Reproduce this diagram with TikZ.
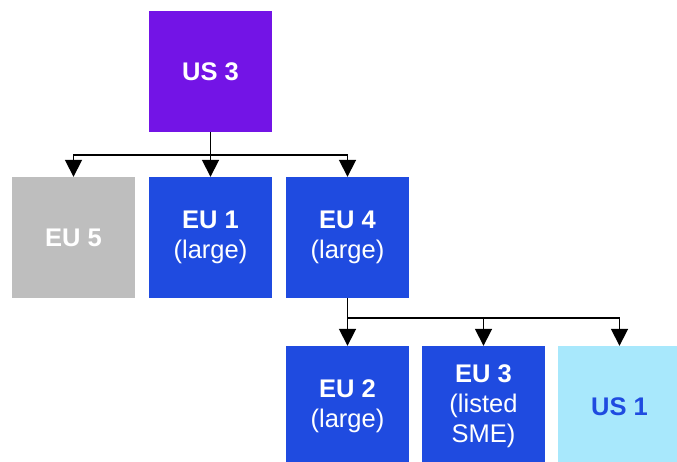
\documentclass[tikz,border=0pt]{standalone}
\usepackage{fontspec}
\setmainfont{Liberation Sans}
\usetikzlibrary{arrows.meta}
\definecolor{usviolet}{HTML}{7314E6}
\definecolor{eublue}{HTML}{1F4BE0}
\definecolor{eugrey}{HTML}{BEBEBE}
\definecolor{uscyan}{HTML}{A8E8FC}
\begin{document}
\begin{tikzpicture}[x=1pt,y=-1pt,
  box/.style={minimum width=123pt,minimum height=121pt,inner sep=0pt,align=center,text=white,font=\fontsize{25.5}{30}\selectfont},
  link/.style={line width=1.8pt,-{Triangle[width=17pt,length=17pt]}}]
\useasboundingbox (0,0) rectangle (677,462);
\node[box,fill=usviolet] (us3) at (210.5,71.5) {\textbf{US 3}};
\node[box,fill=eugrey] (eu5) at (73.5,237.5) {\textbf{EU 5}};
\node[box,fill=eublue] (eu1) at (210.5,237.5) {\textbf{EU 1}\\(large)};
\node[box,fill=eublue] (eu4) at (347.5,237.5) {\textbf{EU 4}\\(large)};
\node[box,fill=eublue] (eu2) at (347.5,406.5) {\textbf{EU 2}\\(large)};
\node[box,fill=eublue] (eu3) at (483.5,406.5) {\textbf{EU 3}\\(listed\\SME)};
\node[box,fill=uscyan,text=eublue] (us1) at (619.5,406.5) {\textbf{US 1}};
% first level
\coordinate (split1) at (210.5,155);
\draw[line width=1.8pt] (us3.south) -- (split1);
\draw[link] (split1) -| (eu5.north);
\draw[link] (split1) -- (eu1.north);
\draw[link] (split1) -| (eu4.north);
% second level
\coordinate (split2) at (347.5,318);
\draw[line width=1.8pt] (eu4.south) -- (split2);
\draw[link] (split2) -- (eu2.north);
\draw[link] (split2) -| (eu3.north);
\draw[link] (split2) -| (us1.north);
\end{tikzpicture}
\end{document}
